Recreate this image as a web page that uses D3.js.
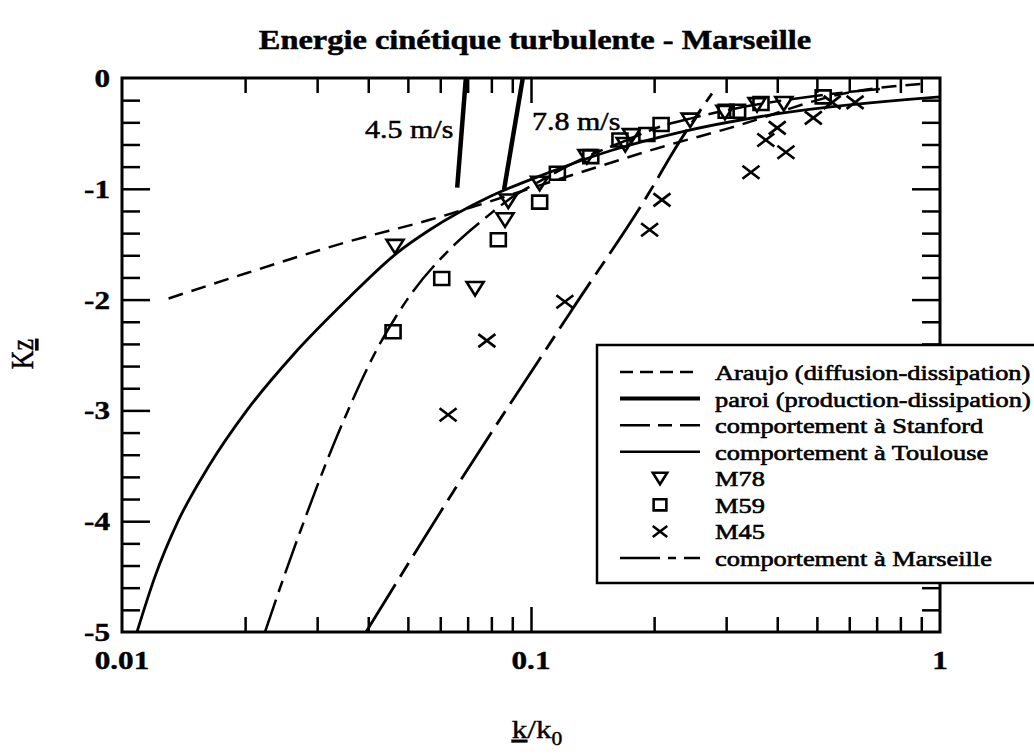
<!DOCTYPE html>
<html>
<head>
<meta charset="utf-8">
<script src="https://cdn.jsdelivr.net/npm/d3@7"></script>
<style>
  body { margin: 0; background: #fff; }
  svg { display: block; }
</style>
</head>
<body>
<div id="chart"></div>
<script>
// values (k/k0, Kz)
const kAraujo = [0.0130, 0.0202, 0.0355, 0.0566, 0.125, 0.21, 0.307, 0.6, 0.92];
const kzAraujo = [-1.99, -1.76, -1.48, -1.28, -0.88, -0.62, -0.45, -0.13, -0.05];

const k45 = [0.0693, 0.0660];
const kz45 = [0, -0.99];
const k78 = [0.0955, 0.0859];
const kz78 = [0, -1.01];

const kStanford = [0.0395, 0.0657, 0.1245, 0.203, 0.219, 0.277];
const kzStanford = [-5, -3.69, -2.12, -0.92, -0.71, -0.14];

const kToulouse = [0.01088, 0.01204, 0.01371, 0.01632, 0.0202, 0.0262, 0.0355, 0.047, 0.0566, 0.0794, 0.1094, 0.1585, 0.231, 0.406, 1.0];
const kzToulouse = [-5, -4.5, -4.0, -3.5, -3.0, -2.5, -2.0, -1.58, -1.37, -1.07, -0.86, -0.65, -0.49, -0.32, -0.17];

const kMarseille = [0.02237, 0.02489, 0.02786, 0.03136, 0.0357, 0.0413, 0.0498, 0.0652, 0.0781, 0.0904, 0.1052, 0.137, 0.1717, 0.2066, 0.2489, 0.3013, 0.369, 0.455, 0.569, 0.713];
const kzMarseille = [-5, -4.5, -4.0, -3.5, -3.0, -2.5, -2.0, -1.5, -1.25, -1.07, -0.93, -0.71, -0.56, -0.44, -0.36, -0.29, -0.23, -0.18, -0.135, -0.10];

const kM78 = [0.0465, 0.073, 0.0864, 0.088, 0.105, 0.137, 0.17, 0.176, 0.245, 0.298, 0.357, 0.415];
const kzM78 = [-1.52, -1.90, -1.28, -1.11, -0.95, -0.71, -0.60, -0.52, -0.38, -0.31, -0.24, -0.23];

const kM59 = [0.046, 0.0605, 0.0832, 0.105, 0.116, 0.14, 0.165, 0.192, 0.208, 0.30, 0.32, 0.365, 0.518];
const kzM59 = [-2.29, -1.81, -1.46, -1.12, -0.86, -0.71, -0.56, -0.51, -0.42, -0.30, -0.30, -0.23, -0.17];

const kM45 = [0.0627, 0.078, 0.121, 0.195, 0.209, 0.345, 0.375, 0.40, 0.42, 0.49, 0.545, 0.62];
const kzM45 = [-3.04, -2.37, -2.02, -1.37, -1.10, -0.85, -0.56, -0.45, -0.67, -0.36, -0.22, -0.22];

const xMinorTicks = [0.02, 0.03, 0.04, 0.05, 0.06, 0.07, 0.08, 0.09, 0.2, 0.3, 0.4, 0.5, 0.6, 0.7, 0.8, 0.9];
const xMajorTicks = [0.1];
const xTickLabels = [0.01, 0.1, 1];
const yMinorTicks = [-4.8, -4.6, -4.4, -4.2, -3.8, -3.6, -3.4, -3.2, -2.8, -2.6, -2.4, -2.2,
  -1.8, -1.6, -1.4, -1.2, -0.8, -0.6, -0.4, -0.2];
const yMajorTicks = [-4, -3, -2, -1];
const yTickLabels = [0, -1, -2, -3, -4, -5];

const legendNames = [
  'Araujo (diffusion-dissipation)',
  'paroi (production-dissipation)',
  'comportement à Stanford',
  'comportement à Toulouse',
  'M78',
  'M59',
  'M45',
  'comportement à Marseille'
];

const W = 1034, H = 755;
const SX = 1.2; // the scan is stretched horizontally
const serif = '"Liberation Serif", "Times New Roman", serif';

const x = d3.scaleLog().domain([0.01, 1]).range([122, 940]);
const y = d3.scaleLinear().domain([-5, 0]).range([632, 78]);

const svg = d3.select('#chart').append('svg')
  .attr('width', W).attr('height', H);

function addText(px, py, str, size, weight, anchor, thick) {
  return svg.append('text')
    .attr('transform', `translate(${px},${py}) scale(${SX},1)`)
    .attr('font-family', serif)
    .attr('font-size', size)
    .attr('font-weight', weight || 'normal')
    .attr('text-anchor', anchor || 'start')
    .attr('fill', '#000')
    .attr('stroke', thick ? '#000' : null)
    .attr('stroke-width', thick || null)
    .text(str);
}

// title
addText(535, 49, 'Energie cinétique turbulente - Marseille', 27, 'bold', 'middle', 0.5);

// clip
svg.append('clipPath').attr('id', 'plot-clip')
  .append('rect').attr('x', 122).attr('y', 78).attr('width', 818).attr('height', 554);

// ticks
const tickStyle = g => {
  g.select('.domain').remove();
  g.selectAll('.tick line').attr('stroke', '#000').attr('stroke-width', 2.5);
};

svg.append('g').attr('transform', 'translate(0,632)')
  .call(d3.axisTop(x).tickValues(xMinorTicks).tickSize(15).tickFormat('')).call(tickStyle);
svg.append('g').attr('transform', 'translate(0,632)')
  .call(d3.axisTop(x).tickValues(xMajorTicks).tickSize(25).tickFormat('')).call(tickStyle);
svg.append('g').attr('transform', 'translate(0,78)')
  .call(d3.axisBottom(x).tickValues(xMinorTicks).tickSize(15).tickFormat('')).call(tickStyle);
svg.append('g').attr('transform', 'translate(0,78)')
  .call(d3.axisBottom(x).tickValues(xMajorTicks).tickSize(25).tickFormat('')).call(tickStyle);
svg.append('g').attr('transform', 'translate(122,0)')
  .call(d3.axisRight(y).tickValues(yMinorTicks).tickSize(18).tickFormat('')).call(tickStyle);
svg.append('g').attr('transform', 'translate(122,0)')
  .call(d3.axisRight(y).tickValues(yMajorTicks).tickSize(28).tickFormat('')).call(tickStyle);
svg.append('g').attr('transform', 'translate(940,0)')
  .call(d3.axisLeft(y).tickValues(yMinorTicks).tickSize(18).tickFormat('')).call(tickStyle);
svg.append('g').attr('transform', 'translate(940,0)')
  .call(d3.axisLeft(y).tickValues(yMajorTicks).tickSize(28).tickFormat('')).call(tickStyle);

// tick labels
xTickLabels.forEach(v => addText(x(v), 669, String(v), 26, 'bold', 'middle', 0.4));
yTickLabels.forEach(v => addText(110, y(v) + 9, String(v), 26, 'bold', 'end', 0.4));

// curves
const line = d3.line().x(d => x(d[0])).y(d => y(d[1])).curve(d3.curveMonotoneX);
const plot = svg.append('g').attr('clip-path', 'url(#plot-clip)');

const styles = {
  araujo: { w: 2.5, dash: '15,9' },
  paroi: { w: 4.5, dash: null },
  stanford: { w: 2.8, dash: '56,9,16,9' },
  toulouse: { w: 2.8, dash: null },
  marseille: { w: 2.5, dash: '34,8,12,8' }
};

function drawCurve(ks, kzs, st, gen) {
  plot.append('path')
    .datum(d3.zip(ks, kzs))
    .attr('d', gen || line)
    .attr('fill', 'none')
    .attr('stroke', '#000')
    .attr('stroke-width', st.w)
    .attr('stroke-dasharray', st.dash);
}
const straight = d3.line().x(d => x(d[0])).y(d => y(d[1]));
drawCurve(kAraujo, kzAraujo, styles.araujo);
drawCurve(kToulouse, kzToulouse, styles.toulouse);
drawCurve(kStanford, kzStanford, styles.stanford);
drawCurve(kMarseille, kzMarseille, styles.marseille);
drawCurve(k45, kz45, styles.paroi, straight);
drawCurve(k78, kz78, styles.paroi, straight);

// markers (already widened for the stretch)
const markerPaths = {
  tri: 'M-8.5,-6.5L8.5,-6.5L0,7Z',
  square: 'M-7.5,-6.5H7.5V6.5H-7.5Z',
  cross: 'M-8.5,-6.5L8.5,6.5M-8.5,6.5L8.5,-6.5'
};
function drawMarkers(ks, kzs, shape) {
  plot.selectAll(null)
    .data(d3.zip(ks, kzs))
    .enter().append('path')
    .attr('transform', d => `translate(${x(d[0])},${y(d[1])})`)
    .attr('d', markerPaths[shape])
    .attr('fill', 'none')
    .attr('stroke', '#000')
    .attr('stroke-width', 2.6);
}
drawMarkers(kM78, kzM78, 'tri');
drawMarkers(kM59, kzM59, 'square');
drawMarkers(kM45, kzM45, 'cross');

// frame
svg.append('rect')
  .attr('x', 122).attr('y', 78).attr('width', 818).attr('height', 554)
  .attr('fill', 'none').attr('stroke', '#000').attr('stroke-width', 3);

// speed labels
addText(365, 138, '4.5 m/s', 25, 'normal', 'start', 0.5);
addText(532, 130, '7.8 m/s', 25, 'normal', 'start', 0.5);

// axis titles
const kz = svg.append('text')
  .attr('transform', `translate(33,354) rotate(-90) scale(1,${SX})`)
  .attr('font-family', serif).attr('font-size', 26)
  .attr('stroke', '#000').attr('stroke-width', 0.4)
  .attr('text-anchor', 'middle');
kz.append('tspan').text('K');
kz.append('tspan').attr('text-decoration', 'underline').text('z');

const kk = svg.append('text')
  .attr('transform', `translate(537,738) scale(${SX},1)`)
  .attr('font-family', serif).attr('font-size', 26)
  .attr('stroke', '#000').attr('stroke-width', 0.4)
  .attr('text-anchor', 'middle');
kk.append('tspan').attr('text-decoration', 'underline').text('k');
kk.append('tspan').text('/k');
kk.append('tspan').attr('dy', 7).attr('font-size', 18).text('0');

// legend
const legend = svg.append('g');
legend.append('rect')
  .attr('x', 597).attr('y', 345).attr('width', 445).attr('height', 238)
  .attr('fill', '#fff').attr('stroke', '#000').attr('stroke-width', 2.5);

const legendKeys = ['araujo', 'paroi', 'stanford', 'toulouse', 'tri', 'square', 'cross', 'marseille'];
const legendDash = { araujo: '13,7', stanford: '30,8,14,8', marseille: '40,8,8,8' };
const rowY = d3.scaleLinear().domain([0, 7]).range([372, 558]);
legendKeys.forEach((key, i) => {
  const cy = rowY(i);
  if (styles[key]) {
    legend.append('line')
      .attr('x1', 620).attr('x2', 700).attr('y1', cy).attr('y2', cy)
      .attr('stroke', '#000').attr('stroke-width', key === 'paroi' ? 4 : 2.5)
      .attr('stroke-dasharray', legendDash[key] || null);
  } else {
    legend.append('path')
      .attr('transform', `translate(660,${cy}) scale(0.85)`)
      .attr('d', markerPaths[key])
      .attr('fill', 'none').attr('stroke', '#000').attr('stroke-width', 3);
  }
  addText(715, cy + 8, legendNames[i], 22, 'normal', 'start', 0.6);
});
</script>
</body>
</html>
